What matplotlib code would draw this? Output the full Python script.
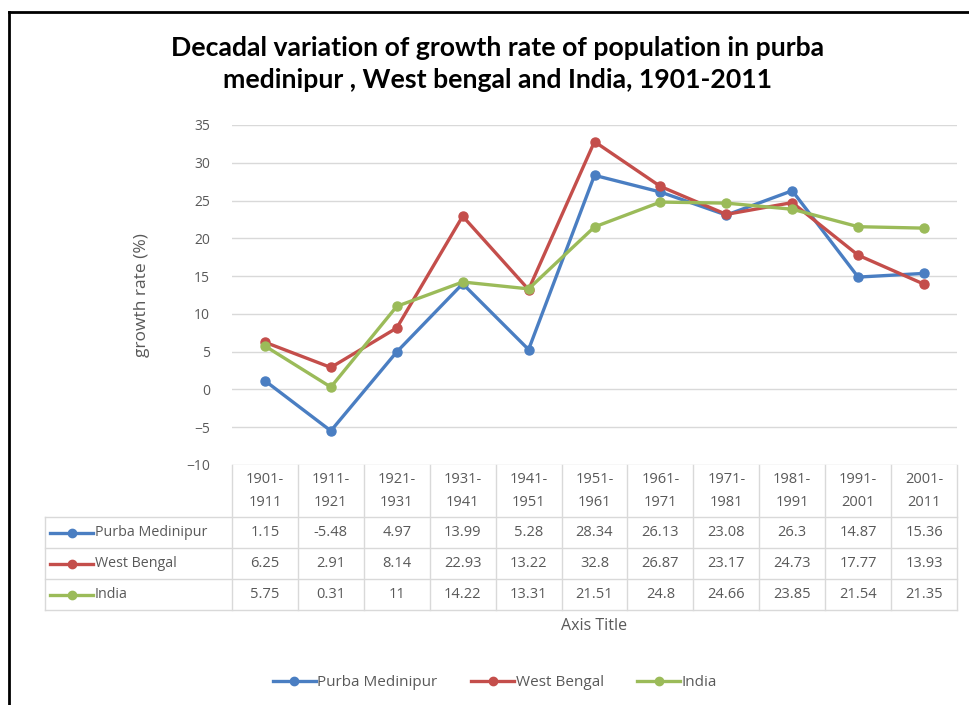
import matplotlib
matplotlib.use("Agg")
import matplotlib.pyplot as plt
from matplotlib.lines import Line2D

periods = ["1901-\n1911", "1911-\n1921", "1921-\n1931", "1931-\n1941", "1941-\n1951",
           "1951-\n1961", "1961-\n1971", "1971-\n1981", "1981-\n1991", "1991-\n2001",
           "2001-\n2011"]
series_names = ["Purba Medinipur", "West Bengal", "India"]
purba = [1.15, -5.48, 4.97, 13.99, 5.28, 28.34, 26.13, 23.08, 26.3, 14.87, 15.36]
west_bengal = [6.25, 2.91, 8.14, 22.93, 13.22, 32.8, 26.87, 23.17, 24.73, 17.77, 13.93]
india = [5.75, 0.31, 11, 14.22, 13.31, 21.51, 24.8, 24.66, 23.85, 21.54, 21.35]
yticks = [35, 30, 25, 20, 15, 10, 5, 0, -5, -10]

colors = ["#4A7EC2", "#C44E4B", "#9BBB59"]
values = [purba, west_bengal, india]
gray = "#595959"
gridc = "#D9D9D9"
BODY = ["Open Sans", "DejaVu Sans"]
plt.rcParams['font.family'] = BODY

W, H = 970, 705
fig = plt.figure(figsize=(W / 100, H / 100), dpi=100)

L, R, T, B = 232, 957, 125, 465
ax = fig.add_axes([L / W, 1 - B / H, (R - L) / W, (B - T) / H])
n = len(periods)
x = list(range(n))
for name, vals, c in zip(series_names, values, colors):
    ax.plot(x, vals, color=c, lw=2.4, marker="o", ms=6.5, label=name, zorder=3)

ax.set_xlim(-0.5, n - 0.5)
ax.set_ylim(-10, 35)
ax.set_yticks(yticks)
ax.set_xticks([])
for s in ax.spines.values():
    s.set_visible(False)
ax.grid(axis="y", color=gridc, lw=1)
ax.set_axisbelow(True)
ax.tick_params(axis="y", length=0, pad=16, labelsize=10, labelcolor=gray)
ax.set_ylabel("growth rate (%)", fontsize=12.5, color=gray, labelpad=26)

# data table below the axes
ph = B - T
hdr = (517 - B) / ph
row = 31 / ph
bottom = hdr + 3 * row
xt = ax.get_xaxis_transform()
left_frac = (45 - L) / (R - L)
lk = dict(color=gridc, lw=1, clip_on=False)
for i in range(n + 1):
    ax.plot([i - 0.5, i - 0.5], [0, -bottom], transform=xt, **lk)
ax.plot([left_frac, left_frac], [-hdr, -bottom], transform=ax.transAxes, **lk)
ax.plot([left_frac, 1], [-hdr, -hdr], transform=ax.transAxes, **lk)
for k in range(1, 4):
    ax.plot([left_frac, 1], [-hdr - k * row] * 2, transform=ax.transAxes, **lk)

for i, p in enumerate(periods):
    ax.text(i, -hdr / 2, p, transform=xt, ha="center", va="center",
            fontsize=10.5, color=gray, linespacing=1.65)
for k, (name, vals, c) in enumerate(zip(series_names, values, colors)):
    yc = -hdr - (k + 0.5) * row
    for i, v in enumerate(vals):
        ax.text(i, yc, f"{v:g}", transform=xt, ha="center", va="center",
                fontsize=10.5, color=gray)
    x0 = left_frac + 5 / (R - L)
    x1 = left_frac + 48 / (R - L)
    ax.plot([x0, x1], [yc, yc], transform=ax.transAxes, color=c, lw=2.4, clip_on=False)
    ax.plot([(x0 + x1) / 2], [yc], transform=ax.transAxes, color=c, marker="o",
            ms=6, clip_on=False)
    ax.text(x1 + 2 / (R - L), yc, name, transform=ax.transAxes, ha="left",
            va="center", fontsize=10.3, color=gray)

fig.text((L + R) / 2 / W, 1 - 626 / H, "Axis Title", ha="center", va="center",
         fontsize=11.5, color=gray)

fig.text(498 / W, 1 - 64 / H,
         "Decadal variation of growth rate of population in purba\nmedinipur , West bengal and India, 1901-2011",
         ha="center", va="center", fontsize=19.2, fontweight="bold", color="black",
         linespacing=1.4, family=["Lato", "DejaVu Sans"])

handles = [Line2D([], [], color=c, lw=2.4, marker="o", ms=6) for c in colors]
leg = fig.legend(handles, series_names, loc="center", ncol=3,
                 bbox_to_anchor=(495 / W, 1 - 683 / H), frameon=False,
                 fontsize=11, handlelength=2.8, columnspacing=2.2, handletextpad=0.1)
for t in leg.get_texts():
    t.set_color(gray)

# outer frame (left and top edges)
fig.add_artist(Line2D([9 / W, 9 / W], [0, 1 - 12 / H], color="black", lw=2,
                      transform=fig.transFigure))
fig.add_artist(Line2D([9 / W, 1], [1 - 12 / H, 1 - 12 / H], color="black", lw=2,
                      transform=fig.transFigure))

fig.savefig("out.png", dpi=100)
